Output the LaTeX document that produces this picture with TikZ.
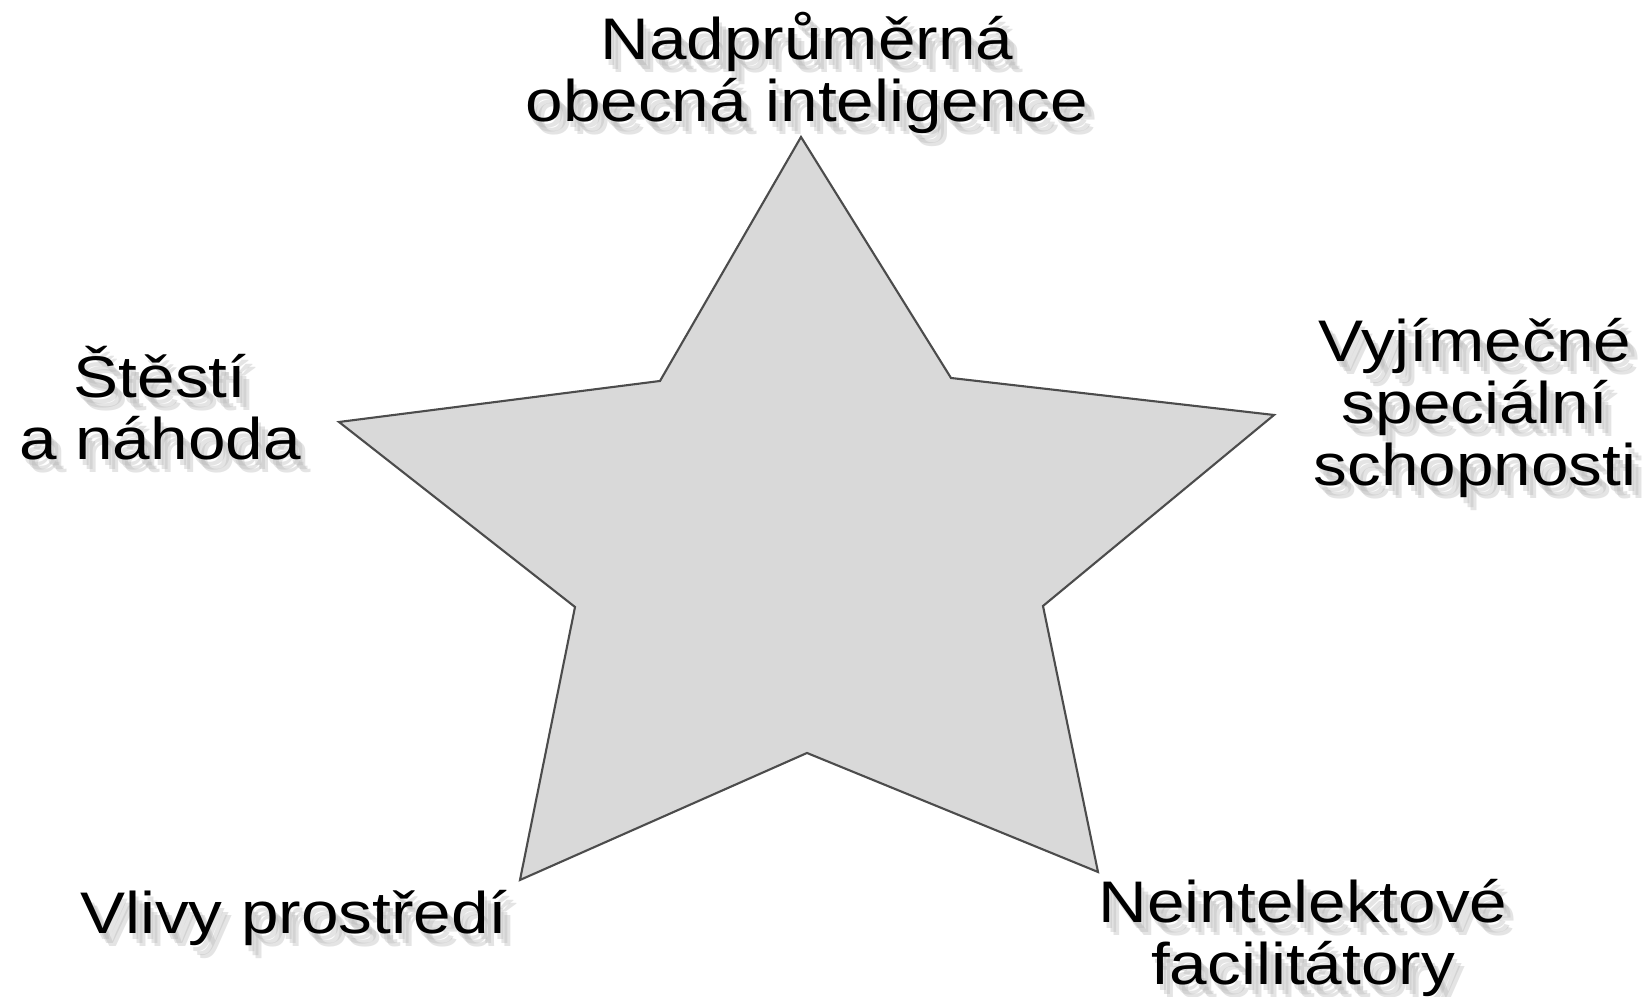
\documentclass[tikz,border=0pt]{standalone}
\usepackage{fontspec}
\setmainfont{Liberation Sans}[FakeStretch=1.15]
\usetikzlibrary{positioning}

\begin{document}
\begin{tikzpicture}[
      label text/.style={align=center, inner sep=0pt,
                         font=\fontsize{16.7pt}{17.6pt}\selectfont},
      label shadow/.style={label text, text=black!30, opacity=0.35},
      star fill/.style={fill=black!15, draw=black!70, line width=0.6pt, line join=miter},
    ]
    \useasboundingbox (0,0) rectangle (16.48,9.97);
    % the star
    \draw[star fill] (8.01,8.60) -- (9.51,6.19) -- (12.74,5.82) -- (10.43,3.91)
      -- (10.98,1.25) -- (8.07,2.44) -- (5.20,1.17) -- (5.75,3.90)
      -- (3.39,5.75) -- (6.60,6.16) -- cycle;
    % labels with a soft shadow
    \foreach \name/\x/\y/\txt in {
        top/8.07/9.24/{Nadprůměrná\\obecná inteligence},
        luck/1.60/5.94/{Štěstí\\a náhoda},
        skill/14.75/5.89/{Vyjímečné\\speciální\\schopnosti},
        envir/2.94/0.79/{Vlivy prostředí},
        facil/13.03/0.59/{Neintelektové\\facilitátory}} {
      \node[label shadow] (sh1-\name) at (\x+0.03,\y-0.06) {\txt};
      \node[label shadow] (sh2-\name) at (\x+0.07,\y-0.10) {\txt};
      \node[label shadow] (sh3-\name) at (\x+0.10,\y-0.13) {\txt};
      \node[label text] (lbl-\name) at (\x,\y) {\txt};
    }
  \end{tikzpicture}
\end{document}
